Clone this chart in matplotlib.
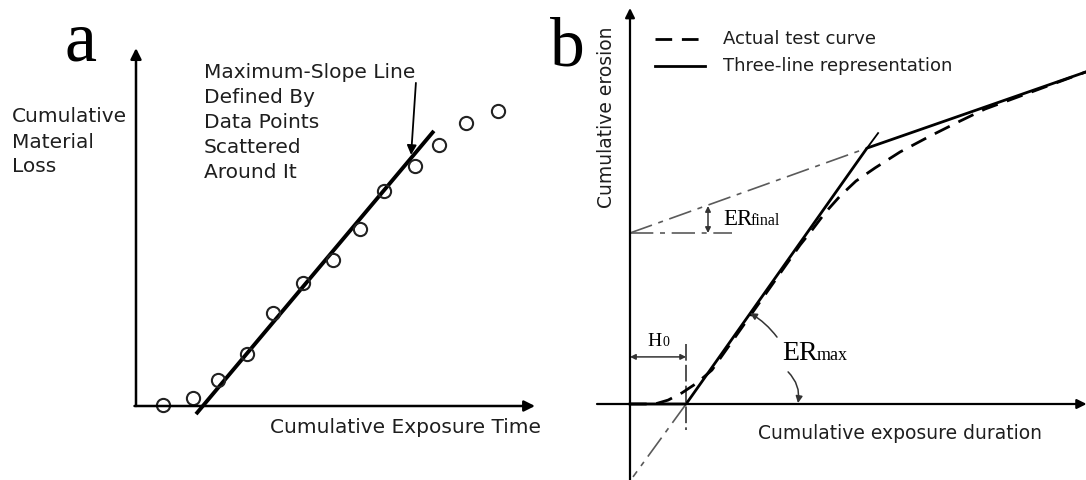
import matplotlib
matplotlib.use("Agg")
import matplotlib.pyplot as plt

# ---------------- data ----------------
# Panel a: measured points (cumulative exposure time, cumulative material loss)
time_a = [0.9, 1.9, 2.75, 3.7, 4.55, 5.55, 6.55, 7.45, 8.25, 9.3, 10.1, 11.0, 12.05]
loss_a = [0.03, 0.27, 0.87, 1.73, 3.1, 4.1, 4.87, 5.9, 7.17, 8.0, 8.7, 9.43, 9.83]
# maximum-slope line end points
fit_x = [2.0, 9.93]
fit_y = [-0.27, 9.17]
text_a = ["Maximum-Slope Line", "Defined By", "Data Points", "Scattered", "Around It"]
ylabel_a = ["Cumulative", "Material", "Loss"]

# Panel b: three-line representation (incubation, max-rate, final-rate)
three_x = [0.0, 1.87, 7.9, 15.2]
three_y = [0.0, 0.0, 8.53, 11.07]
# actual test curve
curve_x = [0.0, 0.83, 1.27, 1.73, 2.23, 2.73, 5.67, 6.07, 6.5, 7.0, 7.53, 8.17, 9.0, 10.0, 11.0, 11.83, 15.2]
curve_y = [0.0, 0.0, 0.13, 0.37, 0.7, 1.13, 5.3, 5.8, 6.37, 6.93, 7.43, 7.87, 8.4, 8.93, 9.43, 9.83, 11.07]
H0 = 1.87
ER_final_intercept = 5.7

SANS = ['DejaVu Sans']
SERIF = ['Liberation Serif', 'DejaVu Serif']
TXT = '#1e1e1e'
plt.rcParams['font.family'] = SANS
fig = plt.figure(figsize=(10.86, 4.8), dpi=100)

# ---------------- panel a ----------------
ax = fig.add_axes([0, 0, 1, 1])
ax.set_xlim(-136 / 30, (1086 - 136) / 30)
ax.set_ylim(-(480 - 406) / 30, 406 / 30)
ax.axis('off')
ax.patch.set_alpha(0)

arr = dict(arrowstyle='-|>', lw=1.8, color='black', mutation_scale=16, shrinkA=0, shrinkB=0)
ax.annotate("", xy=(0, 11.93), xytext=(0, 0), arrowprops=arr, annotation_clip=False)
ax.annotate("", xy=(13.3, 0), xytext=(-0.05, 0), arrowprops=arr, annotation_clip=False)
ax.plot(fit_x, fit_y, color='black', lw=2.8, solid_capstyle='butt')
ax.plot(time_a, loss_a, 'o', ms=9.5, mfc='none', mec='#222222', mew=1.5)
ax.annotate("", xy=(9.17, 8.37), xytext=(9.33, 10.77),
            arrowprops=dict(arrowstyle='-|>', lw=1.3, color='black', mutation_scale=14, shrinkA=0, shrinkB=0))
for i, line in enumerate(text_a):
    ax.text(2.27, (406 - 72 - 25.2 * i) / 30, line, fontsize=14.5, ha='left', va='center', color=TXT)
for i, line in enumerate(ylabel_a):
    ax.text(-4.13, (406 - 117 - 25 * i) / 30, line, fontsize=14.5, ha='left', va='center', color=TXT)
ax.text(4.47, -0.73, "Cumulative Exposure Time", fontsize=14.5, ha='left', va='center', color=TXT)
ax.text(-2.37, 11.53, "a", fontsize=52, family=SERIF, ha='left', va='baseline')

# ---------------- panel b ----------------
bx = fig.add_axes([0, 0, 1, 1])
bx.set_xlim(-630 / 30, (1086 - 630) / 30)
bx.set_ylim(-(480 - 404) / 30, 404 / 30)
bx.axis('off')
bx.patch.set_alpha(0)

arrb = dict(arrowstyle='-|>', lw=1.6, color='black', mutation_scale=14, shrinkA=0, shrinkB=0)
bx.annotate("", xy=(0, 13.2), xytext=(0, -2.6), arrowprops=arrb, annotation_clip=False)
bx.annotate("", xy=(15.22, 0), xytext=(-1.1, 0), arrowprops=arrb, annotation_clip=False)

# dash-dot construction lines
dd = dict(color='#5a5a5a', lw=1.2, dashes=(14, 4, 3, 4))
bx.plot([0, three_x[2]], [ER_final_intercept, three_y[2]], **dd)
bx.plot([0, 3.4], [ER_final_intercept, ER_final_intercept], **dd)
bx.plot([H0, 0.1], [0, -2.43], **dd)
# steep line extension beyond knee
bx.plot([three_x[2], 8.27], [three_y[2], 9.03], color='black', lw=1.3)
# H0 vertical dashed
bx.plot([H0, H0], [2.0, -0.87], color='#333333', lw=1.2, dashes=(10, 2.5))

# actual test curve (dashed)
bx.plot(curve_x, curve_y, color='black', lw=2.0, dashes=(6, 3.5))
# three-line representation
bx.plot(three_x, three_y, color='black', lw=2.0)

# legend
bx.plot([0.83, 2.5], [12.17, 12.17], color='black', lw=2.0, dashes=(6, 3.5))
bx.plot([0.83, 2.5], [11.27, 11.27], color='black', lw=2.0)
bx.text(3.1, 12.17, "Actual test curve", fontsize=13, va='center', ha='left', color=TXT)
bx.text(3.1, 11.27, "Three-line representation", fontsize=13, va='center', ha='left', color=TXT)

# axis labels
bx.text(-0.77, 9.57, "Cumulative erosion", fontsize=13.5, rotation=90, ha='center', va='center', color=TXT)
bx.text(4.27, -0.97, "Cumulative exposure duration", fontsize=13.5, ha='left', va='center', color=TXT)
bx.text(-2.67, 11.3, "b", fontsize=50, family=SERIF, ha='left', va='baseline')

# H0 annotation
dbl = dict(arrowstyle='<|-|>', lw=1.1, color='#333333', mutation_scale=8, shrinkA=0, shrinkB=0)
bx.annotate("", xy=(0, 1.57), xytext=(H0, 1.57), arrowprops=dbl)
bx.text(0.57, 1.93, "H", fontsize=14, family=SERIF, ha='left', va='baseline')
bx.text(1.08, 1.93, "0", fontsize=10, family=SERIF, ha='left', va='baseline')

# ER_final annotation
bx.annotate("", xy=(2.6, 6.6), xytext=(2.6, ER_final_intercept), arrowprops=dbl)
bx.text(3.1, 5.97, "ER", fontsize=16.5, family=SERIF, ha='left', va='baseline')
bx.text(4.03, 5.97, "final", fontsize=11.5, family=SERIF, ha='left', va='baseline')

# ER_max annotation
bx.text(5.07, 1.47, "ER", fontsize=20, family=SERIF, ha='left', va='baseline')
bx.text(6.22, 1.47, "max", fontsize=13, family=SERIF, ha='left', va='baseline')
arc = dict(arrowstyle='-|>', lw=1.1, color='#333333', mutation_scale=10, shrinkA=0, shrinkB=0)
bx.annotate("", xy=(4.0, 3.03), xytext=(4.9, 2.23), arrowprops=dict(arc, connectionstyle='arc3,rad=0.1'))
bx.annotate("", xy=(5.6, 0.03), xytext=(5.27, 1.07), arrowprops=dict(arc, connectionstyle='arc3,rad=-0.25'))

fig.savefig("out.png", dpi=100)
